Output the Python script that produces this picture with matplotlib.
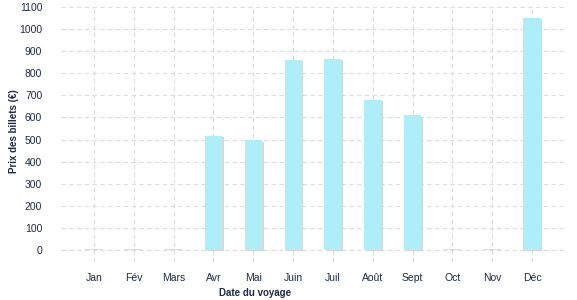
import matplotlib
matplotlib.use("Agg")
import matplotlib.pyplot as plt
import matplotlib.patheffects as pe

months = ["Jan", "Fév", "Mars", "Avr", "Mai", "Juin", "Juil", "Août", "Sept", "Oct", "Nov", "Déc"]
prices = [3, 3, 3, 518, 496, 861, 866, 681, 609, 3, 3, 1052]
yticks = list(range(0, 1101, 100))

plt.rcParams['font.family'] = ['Liberation Sans', 'DejaVu Sans']
txt = "#1f2a44"

fig = plt.figure(figsize=(5.77, 3.0), dpi=100)
ax = fig.add_axes([0.1057, 0.1267, 0.877, 0.857])
x = list(range(len(months)))
bars = ax.bar(x, prices, width=0.43, color="#aeeef8", zorder=3)
for b in bars:
    b.set_path_effects([pe.SimplePatchShadow(offset=(1.2, -1), shadow_rgbFace="#d8d8d8", alpha=1.0), pe.Normal()])

ax.set_xlim(-0.83, 11.88)
ax.set_ylim(-55, 1110)
ax.set_yticks(yticks)
ax.set_xticks(x)
ax.set_xticklabels(months)
ax.grid(True, color="#dddddd", linestyle=(0, (4, 3)), linewidth=0.8, zorder=0)
for s in ax.spines.values():
    s.set_visible(False)
ax.tick_params(length=0, labelsize=7.5, colors=txt, pad=8)
ax.tick_params(axis='y', pad=13.5)
ax.set_ylabel("Prix des billets (€)", fontsize=7, fontweight="bold", color=txt)
ax.set_xlabel("Date du voyage", fontsize=7, fontweight="bold", color=txt)
ax.yaxis.set_label_coords(-0.093, 0.51)
ax.xaxis.set_label_coords(0.383, -0.12)
ax.xaxis.label.set_va("center")
ax.yaxis.label.set_va("center")
fig.savefig("out.png", dpi=100)
